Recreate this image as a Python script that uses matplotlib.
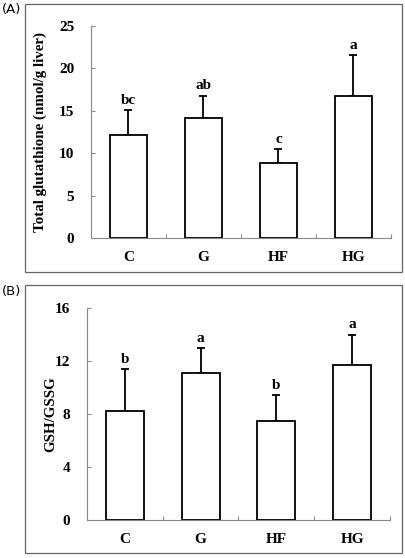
import matplotlib
matplotlib.use("Agg")
import matplotlib.pyplot as plt
from matplotlib.patches import Rectangle

categories = ["C", "G", "HF", "HG"]
total_gsh = [12.1, 14.2, 8.8, 16.7]
total_gsh_err = [3.0, 2.6, 1.7, 4.9]
total_gsh_letters = ["bc", "ab", "c", "a"]
ratio = [8.2, 11.1, 7.5, 11.7]
ratio_err = [3.2, 1.9, 1.9, 2.3]
ratio_letters = ["b", "a", "b", "a"]

W, H = 406, 558
fig = plt.figure(figsize=(W / 100, H / 100), dpi=100)
serif = "Liberation Serif"
FS = 11

def fx(px):
    return px / W

def fy(py):
    return 1 - py / H

def panel(rect_px, box_px, label, vals, errs, letters, ylim, yticks, ylabel, ylab_x):
    l, t, r, b = rect_px
    ax = fig.add_axes([fx(l), fy(b), fx(r - l), (b - t) / H])
    x = range(len(categories))
    ax.bar(x, vals, width=0.5, color="white", edgecolor="black", linewidth=1.3, zorder=3)
    ax.errorbar(x, vals, yerr=[[0] * len(vals), errs], fmt="none", ecolor="black",
                elinewidth=1.3, capsize=3, capthick=1.3, zorder=2)
    for xi, v, e, s in zip(x, vals, errs, letters):
        ax.text(xi, v + e + ylim * 0.015, s, ha="center", va="bottom", fontsize=FS,
                fontweight="bold", family=serif)
    ax.set_xlim(-0.5, 3.5)
    ax.set_ylim(0, ylim)
    ax.set_yticks(yticks)
    ax.set_yticklabels([str(v) for v in yticks], fontsize=FS, fontweight="bold", family=serif)
    ax.set_xticks([0.5, 1.5, 2.5, 3.5])
    ax.set_xticklabels([])
    ax.tick_params(axis="both", direction="in", color="#888888", length=3, width=0.8)
    ax.tick_params(axis="y", pad=12)
    for xi, c in zip(x, categories):
        ax.text(xi, -ylim * 0.09, c, ha="center", va="center", fontsize=FS,
                fontweight="bold", family=serif)
    for s in ["top", "right"]:
        ax.spines[s].set_visible(False)
    for s in ["left", "bottom"]:
        ax.spines[s].set_color("#888888")
        ax.spines[s].set_linewidth(0.8)
    ax.set_ylabel(ylabel, fontsize=10.8, fontweight="bold", family=serif)
    ax.yaxis.set_label_coords((ylab_x - l) / (r - l), 0.5)
    bl, bt, br, bb = box_px
    fig.patches.append(Rectangle((fx(bl), fy(bb)), fx(br - bl), (bb - bt) / H,
                                 transform=fig.transFigure, fill=False,
                                 edgecolor="#666666", linewidth=0.9))
    fig.text(fx(2), fy(bt + 6), label, fontsize=9.5, family="DejaVu Sans", va="center", ha="left")
    return ax

panel((91, 26, 391, 238), (25, 4, 402, 272), "(A)", total_gsh, total_gsh_err,
      total_gsh_letters, 25, [0, 5, 10, 15, 20, 25], "Total glutathione (nmol/g liver)", 47)
panel((87, 308, 390, 520), (25, 285, 402, 553), "(B)", ratio, ratio_err,
      ratio_letters, 16, [0, 4, 8, 12, 16], "GSH/GSSG", 57)

fig.savefig("out.png", dpi=100)
